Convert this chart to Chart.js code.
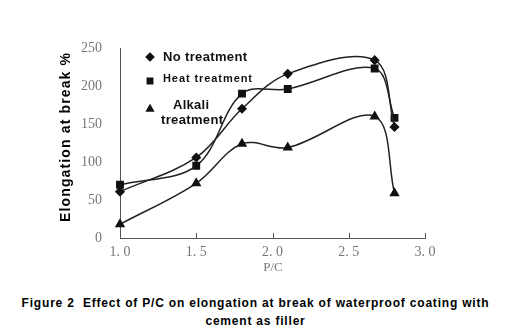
<!DOCTYPE html>
<html lang="en">
<head>
  <meta charset="UTF-8">
  <title>Elongation at break vs P/C</title>
  <style>
    body {
      margin: 0;
      padding: 0;
      background: #fff;
    }

    .wrap {
      position: relative;
      width: 511px;
      height: 334px;
      overflow: hidden;
    }

    .chart-box {
      position: absolute;
      left: 0;
      top: 0;
      width: 511px;
      height: 290px;
    }

    .caption {
      position: absolute;
      left: 0;
      top: 294px;
      width: 511px;
      text-align: center;
      font-family: 'Liberation Sans', Arial, sans-serif;
      font-weight: bold;
      font-size: 12px;
      letter-spacing: 0.8px;
      line-height: 18px;
      color: #000;
    }
  </style>
</head>
<body>
<div class="wrap">
  <div class="chart-box">
    <canvas id="elongChart" width="511" height="290"></canvas>
  </div>
  <div class="caption">Figure 2&nbsp; Effect of P/C on elongation at break of waterproof coating with<br>cement as filler</div>
</div>

<script src="https://cdn.jsdelivr.net/npm/chart.js"></script>
<script>
  // P/C ratios and elongation at break (%)
  const pcValues = [1.0, 1.5, 1.8, 2.1, 2.67, 2.8];
  const noTreatment = [61, 106, 170, 216, 234, 146];
  const heatTreatment = [70, 95, 190, 196, 223, 158];
  const alkaliTreatment = [18, 72, 124, 119, 160, 59];

  const xTicks = [1.0, 1.5, 2.0, 2.5, 3.0];
  const yTicks = [0, 50, 100, 150, 200, 250];

  const seriesNames = ['No treatment', 'Heat treatment', 'Alkali treatment'];

  function toPoints(values) {
    return pcValues.map((x, i) => ({ x: x, y: values[i] }));
  }

  // spread text so it covers the given width
  function spreadText(ctx, text, x, y, width) {
    ctx.letterSpacing = '0px';
    const w = ctx.measureText(text).width;
    const gap = Math.max(0, (width - w) / (text.length - 1));
    ctx.letterSpacing = gap + 'px';
    ctx.fillText(text, x, y);
    ctx.letterSpacing = '0px';
  }

  // legend, axis titles and inner tick marks drawn by hand
  const decorations = {
    id: 'decorations',
    afterDraw(chart) {
      const ctx = chart.ctx;
      const xs = chart.scales.x;
      const area = chart.chartArea;

      ctx.save();
      ctx.strokeStyle = '#555';
      ctx.lineWidth = 1;
      xTicks.slice(1).forEach(v => {
        const px = Math.round(xs.getPixelForValue(v)) + 0.5;
        ctx.beginPath();
        ctx.moveTo(px, area.bottom);
        ctx.lineTo(px, area.bottom - 5);
        ctx.stroke();
      });

      // y axis title
      ctx.fillStyle = '#000';
      ctx.font = 'bold 14px "Liberation Sans", Arial, sans-serif';
      ctx.textAlign = 'left';
      ctx.textBaseline = 'middle';
      ctx.translate(66, 222);
      ctx.rotate(-Math.PI / 2);
      spreadText(ctx, 'Elongation at break %', 0, 0, 169);
      ctx.restore();

      // x axis title
      ctx.save();
      ctx.fillStyle = '#777';
      ctx.font = '13px "Liberation Serif", serif';
      ctx.textAlign = 'center';
      ctx.textBaseline = 'middle';
      ctx.fillText('P/C', 273, 268);
      ctx.restore();

      // legend
      ctx.save();
      ctx.fillStyle = '#111';
      const styles = ['rectRot', 'rect', 'triangle'];
      const rows = [57, 81, 109];
      styles.forEach((s, i) => {
        Chart.helpers.drawPoint(ctx, { pointStyle: s, radius: 3.8, borderWidth: 1 }, 150, rows[i]);
        ctx.fill();
      });
      ctx.textBaseline = 'middle';
      ctx.textAlign = 'left';
      ctx.font = 'bold 13px "Liberation Sans", Arial, sans-serif';
      spreadText(ctx, seriesNames[0], 163, 57, 84);
      ctx.font = 'bold 11px "Liberation Sans", Arial, sans-serif';
      spreadText(ctx, seriesNames[1], 163, 79, 89);
      ctx.font = 'bold 13px "Liberation Sans", Arial, sans-serif';
      spreadText(ctx, 'Alkali', 173, 105, 36);
      spreadText(ctx, 'treatment', 161, 120, 62);
      ctx.restore();
    }
  };

  function makeSet(label, values, style, radius) {
    return {
      label: label,
      data: toPoints(values),
      borderColor: '#222',
      borderWidth: 1.5,
      backgroundColor: '#111',
      pointStyle: style,
      pointRadius: radius,
      pointBackgroundColor: '#111',
      pointBorderColor: '#111',
      tension: 0.35,
      clip: false
    };
  }

  new Chart(document.getElementById('elongChart'), {
    type: 'line',
    data: {
      datasets: [
        makeSet(seriesNames[0], noTreatment, 'rectRot', 4),
        makeSet(seriesNames[1], heatTreatment, 'rect', 4.5),
        makeSet(seriesNames[2], alkaliTreatment, 'triangle', 4.5)
      ]
    },
    options: {
      responsive: false,
      animation: false,
      layout: { padding: { top: 48, right: 86, left: 0, bottom: 0 } },
      plugins: {
        legend: { display: false },
        tooltip: { enabled: false }
      },
      scales: {
        x: {
          type: 'linear',
          min: 1,
          max: 3,
          afterBuildTicks: axis => { axis.ticks = xTicks.map(v => ({ value: v })); },
          afterFit: axis => { axis.height = 52; },
          grid: { display: false },
          border: { display: true, color: '#555', width: 1 },
          ticks: {
            color: '#777',
            padding: -2,
            font: { family: '"Liberation Serif", serif', size: 14 },
            callback: v => v.toFixed(1).replace('.', '. ')
          }
        },
        y: {
          min: 0,
          max: 250,
          afterBuildTicks: axis => { axis.ticks = yTicks.map(v => ({ value: v })); },
          afterFit: axis => { axis.width = 120; },
          grid: { display: false },
          border: { display: true, color: '#555', width: 1 },
          ticks: {
            color: '#777',
            padding: 10,
            font: { family: '"Liberation Serif", serif', size: 14 }
          }
        }
      }
    },
    plugins: [decorations]
  });
</script>
</body>
</html>
